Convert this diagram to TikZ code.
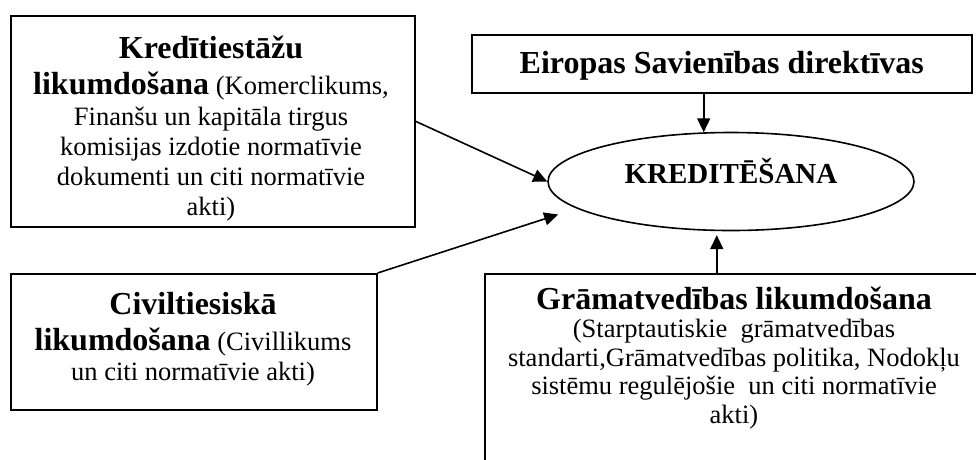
\documentclass[tikz,border=0pt]{standalone}
\usepackage{fontspec}
\setmainfont{Liberation Serif}
\usetikzlibrary{arrows.meta}
\usetikzlibrary{shapes.geometric}
\usetikzlibrary{calc}

\newcommand{\ttlfont}{\fontsize{32}{36}\selectfont\bfseries}

\begin{document}
\begin{tikzpicture}[x=1pt, y=-1pt,
	box/.style={draw, line width=1.6pt, inner sep=0pt, anchor=north west},
	txt/.style={align=center, inner sep=0pt, anchor=base, font=\fontsize{26.5}{28.5}\selectfont},
	link/.style={line width=1.6pt, -{Triangle[length=14pt, width=13pt]}}]
	% page size
	\clip (0,0) rectangle (976,459);

	% draw boxes
	\node[box, minimum width=404pt, minimum height=211pt] (kred) at (10,15) {};
	\node[box, minimum width=366pt, minimum height=136pt] (civ) at (10,273) {};
	\node[box, minimum width=520pt, minimum height=220pt] (gram) at (484,273) {};
	\node[box, minimum width=500pt, minimum height=58pt, text depth=3pt, font=\ttlfont] (euro) at (471,34) {Eiropas Savienības direktīvas};

	% draw centre
	\node[draw, ellipse, line width=1.6pt, inner sep=0pt, minimum width=366pt, minimum height=98pt,
		text depth=21pt, font=\fontsize{29}{32}\selectfont\bfseries] (ell) at (731,181.5) {KREDITĒŠANA\hspace{13pt}};

	% box texts (placed at the baseline of their last line)
	\node[txt, font=\fontsize{26.5}{30}\selectfont] (kredtxt) at (211,215) {{\ttlfont Kredītiestāžu}\\[6pt]
		{\ttlfont likumdošana} (Komerclikums,\\[1pt]
		Finanšu un kapitāla tirgus\\
		komisijas izdotie normatīvie\\
		dokumenti un citi normatīvie\\
		akti)};
	\node[txt] (civtxt) at (193,380) {{\ttlfont Civiltiesiskā}\\[7.5pt]
		{\ttlfont likumdošana} (Civillikums\\[1.5pt]
		un citi normatīvie akti)};
	\node[txt] (gramtxt) at (734,423) {{\ttlfont Grāmatvedības likumdošana}\\
		(Starptautiskie\ \ grāmatvedības\\
		standarti,Grāmatvedības politika, Nodokļu\\
		sistēmu regulējošie\ \ un citi normatīvie\\
		akti)};

	% draw arrows
	\coordinate (civtip) at ($(ell.west)+(11,33)$);
	\draw[link] (euro.south -| ell.119.5) -- (ell.119.5);
	\draw[link, shorten >=4pt] (gram.north -| ell.254) -- (ell.254);
	\draw[link] (kred.east) -- (ell.west);
	\draw[link] (civ.north east) -- (civtip);
\end{tikzpicture}
\end{document}
